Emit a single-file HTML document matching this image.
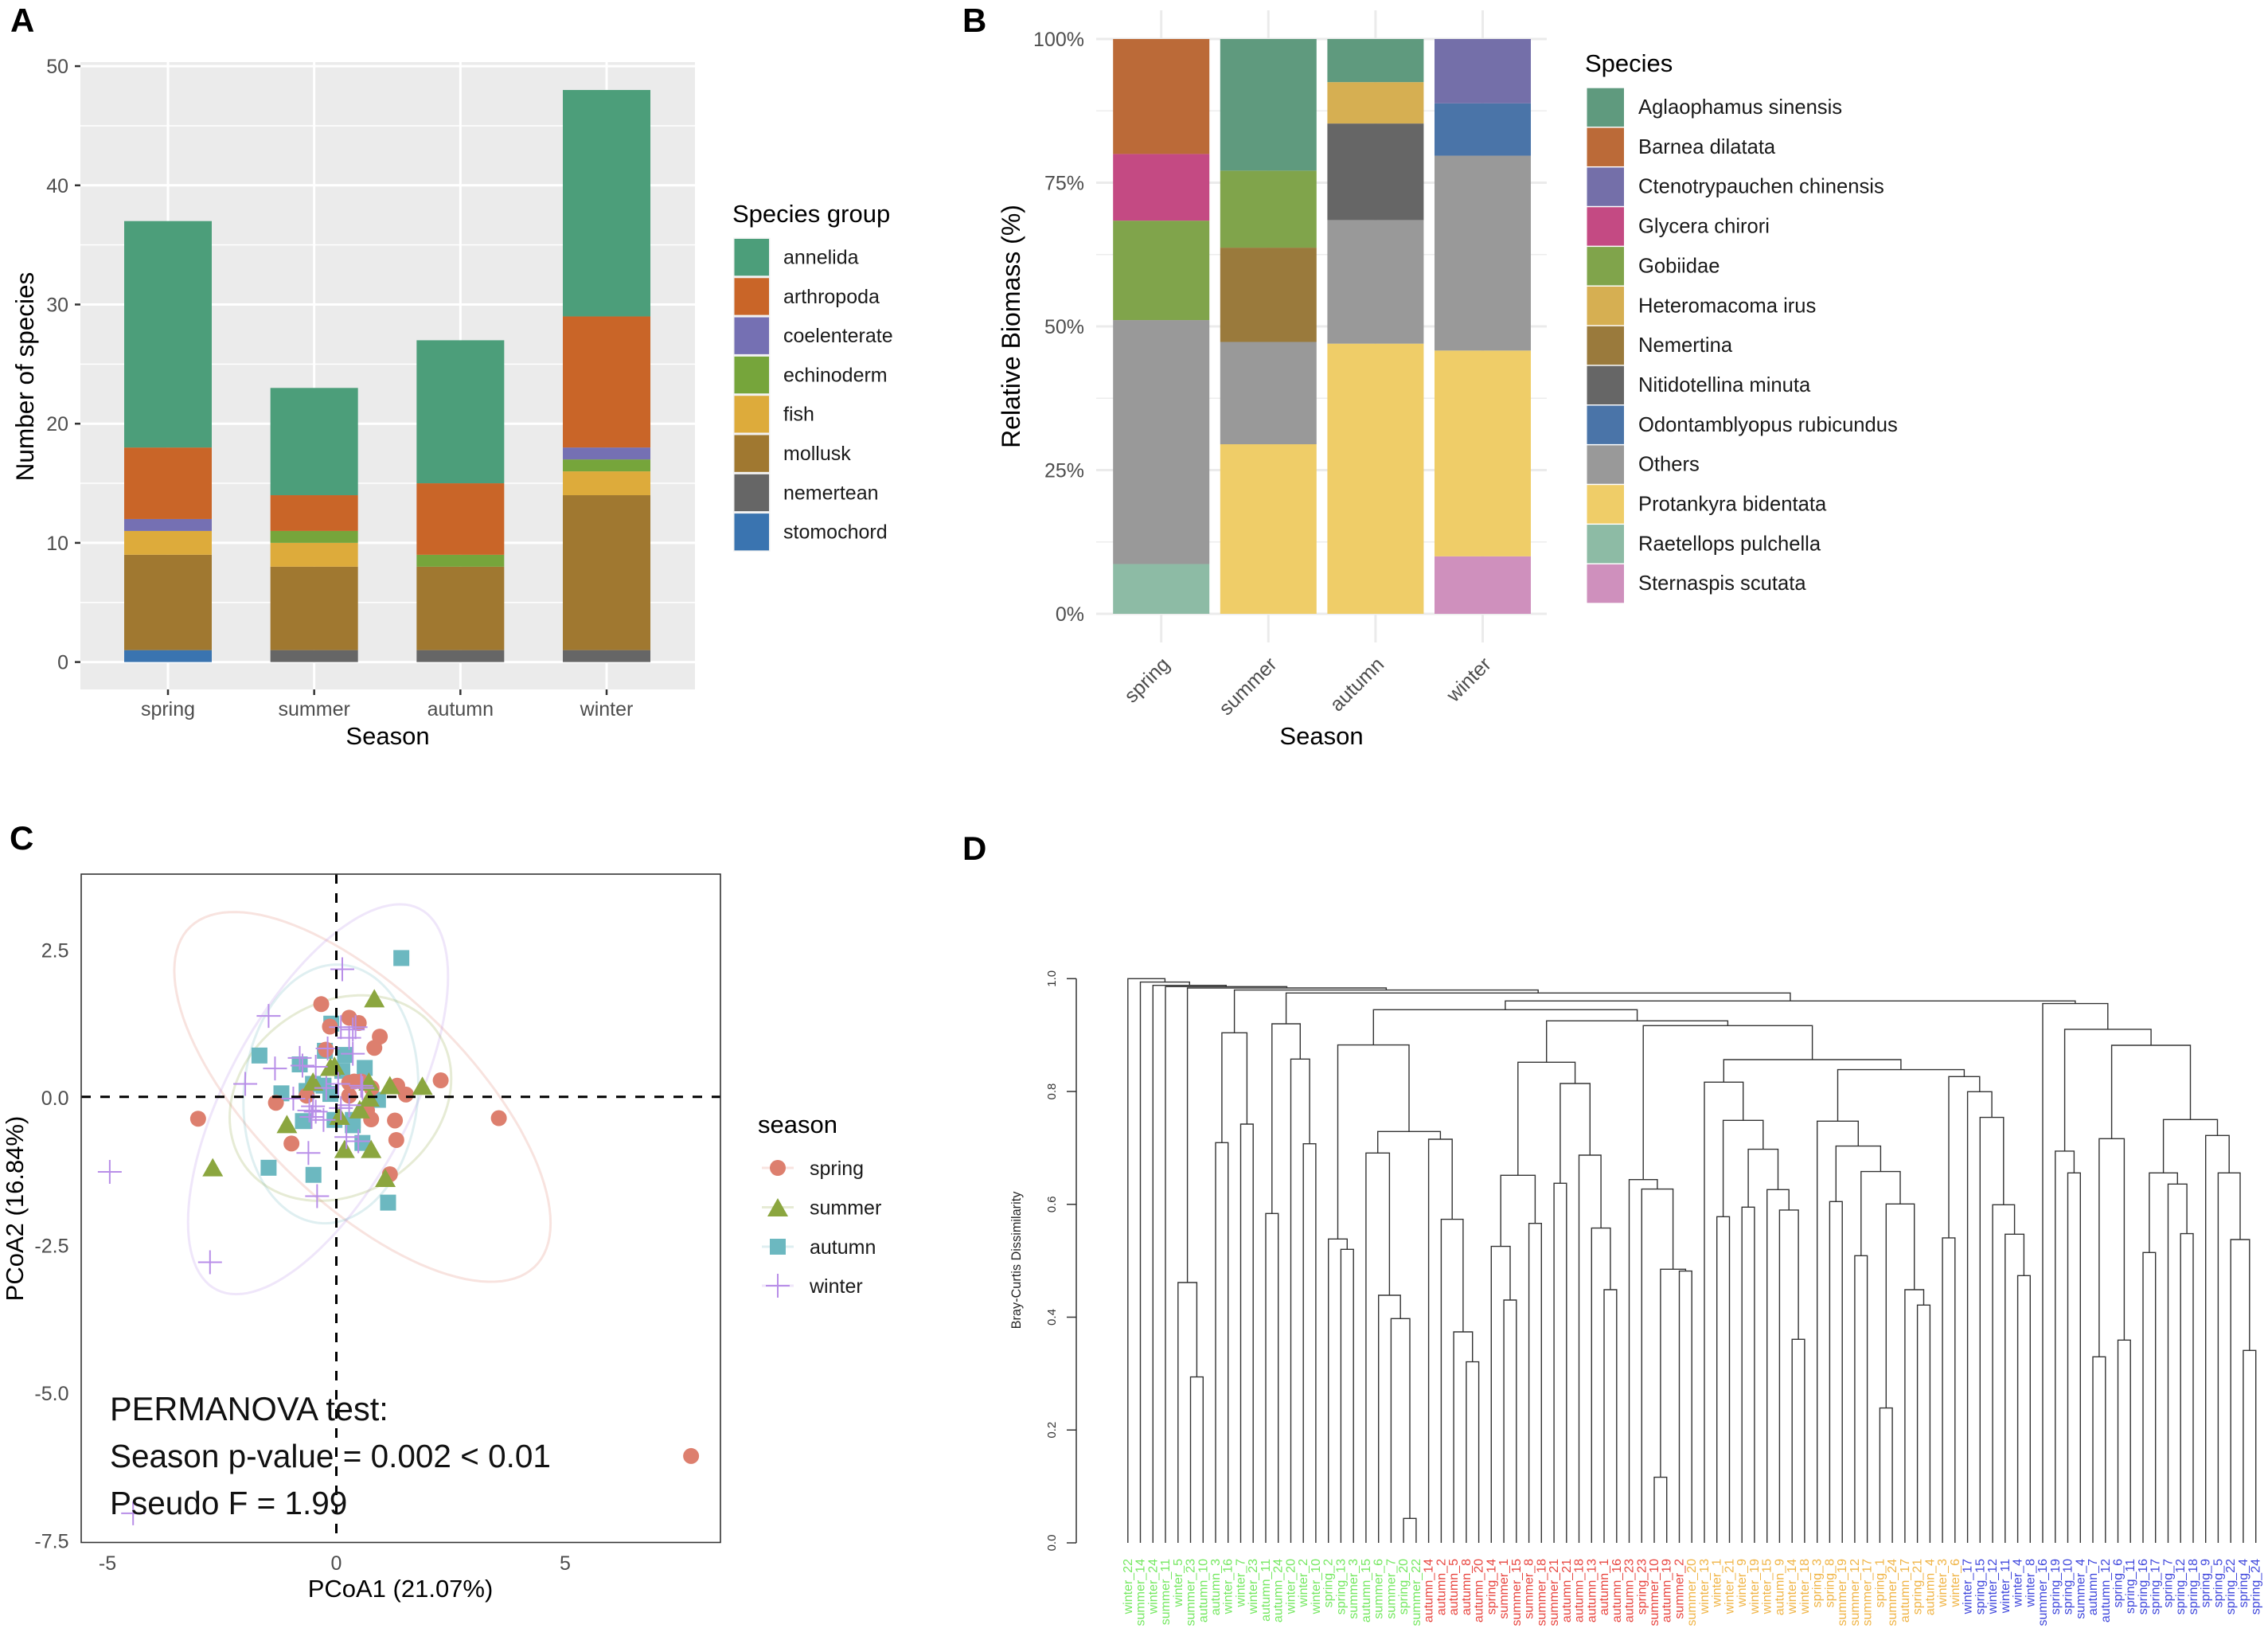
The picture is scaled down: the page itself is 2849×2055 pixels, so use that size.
<!DOCTYPE html>
<html lang="en">
<head>
<meta charset="utf-8">
<title>Seasonal macrobenthos community figure</title>
<style>
html,body{margin:0;padding:0;background:#fff}
svg{display:block;font-family:"Liberation Sans",Arial,sans-serif}
</style>
</head>
<body>
<svg id="figure" xmlns="http://www.w3.org/2000/svg" width="2849" height="2055" viewBox="0 0 2849 2055">
  <rect width="2849" height="2055" fill="#fff"/>
  <g id="panelA"></g>
  <g id="panelB"></g>
  <g id="panelC"></g>
  <g id="panelD"></g>

  <g font-weight="700" font-size="42" fill="#000">
    <text x="13" y="40">A</text>
    <text x="1209" y="40">B</text>
    <text x="12" y="1067">C</text>
    <text x="1209" y="1080">D</text>
  </g>

  <text x="487" y="935" font-size="31" text-anchor="middle">Season</text>
  <text transform="translate(42,473) rotate(-90)" font-size="31.5" text-anchor="middle">Number of species</text>
  <text x="920" y="279" font-size="31">Species group</text>

  <text x="1660" y="935" font-size="31" text-anchor="middle">Season</text>
  <text transform="translate(1281,410) rotate(-90)" font-size="32" text-anchor="middle">Relative Biomass (%)</text>
  <text x="1991" y="90" font-size="31">Species</text>

  <text x="503" y="2006" font-size="31" text-anchor="middle">PCoA1 (21.07%)</text>
  <text transform="translate(29,1518) rotate(-90)" font-size="31" text-anchor="middle">PCoA2 (16.84%)</text>
  <text x="952" y="1423" font-size="31">season</text>

  <text transform="translate(1282,1583) rotate(-90)" font-size="16.3" text-anchor="middle" fill="#222">Bray-Curtis Dissimilarity</text>

  <g id="panelCNotes" font-size="40.5" fill="#111">
    <text x="138" y="1784" font-size="41.5">PERMANOVA test:</text>
    <text x="138" y="1843">Season p-value = 0.002 &lt; 0.01</text>
    <text x="138" y="1902">Pseudo F = 1.99</text>
  </g>
</svg>

<script>
/* ---------- Panel A data ---------- */
const seasons = ['spring', 'summer', 'autumn', 'winter'];
const groupNames = ['annelida', 'arthropoda', 'coelenterate', 'echinoderm', 'fish', 'mollusk', 'nemertean', 'stomochord'];
const groupColors = ['#4c9e7a', '#c96528', '#7570b3', '#76a53b', '#ddab3b', '#a07830', '#666666', '#3a74b0'];
const annelidaCounts = [19, 9, 12, 19];
const arthropodaCounts = [6, 3, 6, 11];
const coelenterateCounts = [1, 0, 0, 1];
const echinodermCounts = [0, 1, 1, 1];
const fishCounts = [2, 2, 0, 2];
const molluskCounts = [8, 7, 7, 13];
const nemerteanCounts = [0, 1, 1, 1];
const stomochordCounts = [1, 0, 0, 0];
const countTicks = [0, 10, 20, 30, 40, 50];
const countMinorTicks = [5, 15, 25, 35, 45];

/* ---------- Panel B data ---------- */
const speciesNames = ['Aglaophamus sinensis', 'Barnea dilatata', 'Ctenotrypauchen chinensis', 'Glycera chirori', 'Gobiidae', 'Heteromacoma irus', 'Nemertina', 'Nitidotellina minuta', 'Odontamblyopus rubicundus', 'Others', 'Protankyra bidentata', 'Raetellops pulchella', 'Sternaspis scutata'];
const speciesColors = ['#5f9a7e', '#bb6a38', '#746fa9', '#c44a83', '#80a44b', '#d6af52', '#9a7a3c', '#666666', '#4a74a8', '#999999', '#efcd68', '#8dbba5', '#cf90bd'];
const aglaophamusBiomass = [0, 22.9, 7.5, 0];
const barneaBiomass = [20, 0, 0, 0];
const ctenotrypauchenBiomass = [0, 0, 0, 11.2];
const glyceraBiomass = [11.6, 0, 0, 0];
const gobiidaeBiomass = [17.3, 13.4, 0, 0];
const heteromacomaBiomass = [0, 0, 7.2, 0];
const nemertinaBiomass = [0, 16.4, 0, 0];
const nitidotellinaBiomass = [0, 0, 16.8, 0];
const odontamblyopusBiomass = [0, 0, 0, 9.1];
const othersBiomass = [42.44, 17.8, 21.5, 33.9];
const protankyraBiomass = [0, 29.5, 47, 35.8];
const raetellopsBiomass = [8.66, 0, 0, 0];
const sternaspisBiomass = [0, 0, 0, 10];
const biomassTicks = [0, 25, 50, 75, 100];
const biomassMinorTicks = [12.5, 37.5, 62.5, 87.5];

/* ---------- Panel C data ---------- */
const springPoints = [[-0.33,1.57],[0.28,1.34],[0.49,1.25],[-0.14,1.19],[0.95,1.02],[0.83,0.83],[-0.23,0.80],[2.28,0.28],[1.33,0.19],[1.52,0.04],[0.39,0.26],[0.28,0.24],[0.54,0.26],[0.77,0.15],[0.28,0.02],[-1.32,-0.10],[-0.65,0.02],[-3.02,-0.37],[0.67,-0.23],[0.76,-0.38],[1.28,-0.40],[1.31,-0.73],[-0.98,-0.79],[1.17,-1.31],[3.55,-0.36],[7.75,-6.08]];
const summerPoints = [[0.83,1.67],[-0.13,0.51],[-0.04,0.53],[-0.51,0.26],[1.17,0.20],[1.88,0.19],[0.72,-0.01],[-1.08,-0.46],[-2.70,-1.19],[0.18,-0.88],[0.76,-0.88],[1.07,-1.37],[0.51,-0.21],[0.07,-0.32],[0.71,0.26]];
const autumnPoints = [[1.42,2.35],[-0.11,1.24],[-0.25,0.78],[0.19,0.71],[0.62,0.49],[-1.68,0.70],[-0.80,0.55],[0.13,0.44],[-1.20,0.06],[-0.51,0.22],[-0.65,0.10],[-0.28,0.19],[-0.13,0.05],[0.91,-0.05],[-0.73,-0.41],[-0.04,-0.39],[0.36,-0.39],[0.36,-0.48],[0.57,-0.78],[-1.48,-1.20],[-0.50,-1.32],[1.13,-1.79]];
const winterPoints = [[0.13,2.16],[-1.48,1.37],[0.36,1.14],[0.28,1.0],[0.42,1.18],[0.10,1.18],[0.36,0.73],[-0.19,0.82],[-0.80,0.66],[-0.74,0.53],[-0.45,0.51],[-1.34,0.48],[-1.99,0.22],[-0.22,0.15],[0.04,0.22],[0.54,0.19],[0.57,0.15],[-0.94,-0.03],[-0.51,-0.16],[-0.59,-0.23],[-0.45,-0.25],[-0.28,-0.39],[-0.54,-0.34],[0.10,-0.19],[0.28,-0.14],[0.22,-0.68],[0.48,-0.75],[-0.61,-0.95],[-0.42,-1.68],[-4.95,-1.27],[-2.76,-2.80],[-4.44,-7.05]];
/* centre x, centre y, half-width x, half-height y, correlation */
const springEllipse = [0.57, 0.0, 4.11, 3.13, -0.683];
const summerEllipse = [0.09, -0.02, 2.42, 1.74, 0.19];
const autumnEllipse = [-0.12, 0.05, 1.91, 2.19, 0.07];
const winterEllipse = [-0.40, -0.04, 2.84, 3.30, 0.63];
const pcoaXTicks = [-5, 0, 5];
const pcoaYTicks = [2.5, 0, -2.5, -5, -7.5];

/* ---------- Panel D data ---------- */
const greenLeaves = ['winter_22','summer_14','winter_24','summer_11','winter_5','summer_23','autumn_10','autumn_3','winter_16','winter_7','winter_23','autumn_11','autumn_24','winter_20','winter_2','winter_10','spring_2','spring_13','summer_3','autumn_15','summer_6','summer_7','spring_20','summer_22'];
const redLeaves = ['autumn_14','autumn_2','autumn_5','autumn_8','autumn_20','spring_14','summer_1','summer_15','summer_8','summer_18','summer_21','autumn_21','autumn_18','autumn_13','autumn_1','autumn_16','autumn_23','spring_23','summer_10','autumn_19','summer_2'];
const orangeLeaves = ['summer_20','winter_13','winter_1','winter_21','winter_9','winter_19','winter_15','autumn_9','winter_14','winter_18','spring_3','spring_8','summer_19','summer_12','summer_17','spring_1','summer_24','autumn_17','spring_21','autumn_4','winter_3','winter_6'];
const blueLeaves = ['winter_17','spring_15','winter_12','winter_11','winter_4','winter_8','summer_16','spring_19','spring_10','summer_4','autumn_7','autumn_12','spring_6','spring_11','spring_16','spring_17','spring_7','spring_12','spring_18','spring_9','spring_5','spring_22','spring_4','spring_24'];
const dissimilarityTicks = [0, 0.2, 0.4, 0.6, 0.8, 1.0];
/* nested clusters: [height, left, right]; a bare number is a leaf position */
const clusterA = [0.8824,[0.5386,16,[0.5202,17,18]],[0.7291,[0.691,19,[0.4389,20,[0.3975,21,[0.0433,22,23]]]],[0.7154,24,[0.5734,25,[0.3739,26,[0.3208,27,28]]]]]];
const clusterD = [0.6439,40,[0.627,41,[0.485,[0.1162,42,43],[0.4817,44,45]]]];
const clusterE = [0.8565,[0.8166,46,[0.7488,[0.5781,47,48],[0.6976,[0.595,49,50],[0.6261,51,[0.5899,52,[0.3608,53,54]]]]]],[0.8387,[0.7474,55,[0.7032,[0.6049,56,57],[0.6581,[0.5089,58,59],[0.6007,[0.239,60,61],[0.4487,62,[0.4215,63,64]]]]]],[0.8264,[0.5405,65,66],[0.7996,67,[0.754,68,[0.5993,69,[0.547,70,[0.4737,71,72]]]]]]]];
const clusterB = [0.9252,[0.8518,[0.6515,[0.5254,29,[0.4304,30,31]],[0.5663,32,33]],[0.8142,[0.6374,34,35],[0.6872,36,[0.5579,37,[0.4487,38,39]]]]],[0.9167,clusterD,clusterE]];
const clusterC = [0.9558,73,[0.9102,[0.6943,74,[0.6557,75,76]],[0.8819,[0.7164,[0.3297,77,78],[0.3594,79,80]],[0.7502,[0.6557,[0.5146,81,82],[0.6359,83,[0.548,84,85]]],[0.722,86,[0.6557,87,[0.5376,88,[0.341,89,90]]]]]]]];
const dendroRoot = [1.0,0,[0.9939,1,[0.9882,2,[0.9859,3,[0.9835,[0.4614,4,[0.294,5,6]],[0.9798,[0.9041,[0.7093,7,8],[0.7422,9,10]],[0.9746,[0.92,[0.5837,11,12],[0.8575,13,[0.7074,14,15]]],[0.9605,[0.945,clusterA,clusterB],clusterC]]]]]]]];

/* ---------- Helpers ---------- */
const SVG_NS = 'http://www.w3.org/2000/svg';
function mk(tag, attrs, parent) {
  const el = document.createElementNS(SVG_NS, tag);
  for (const k in attrs) el.setAttribute(k, attrs[k]);
  parent.appendChild(el);
  return el;
}
function txt(content, attrs, parent) {
  const el = mk('text', attrs, parent);
  el.textContent = content;
  return el;
}

/* ---------- Panel A ---------- */
(function () {
  const g = document.getElementById('panelA');
  const y = v => 831.6 - v * 14.97;
  const x = i => 211 + i * 183.67;
  const barWidth = 110;
  const stackOrder = [stomochordCounts, nemerteanCounts, molluskCounts, fishCounts, echinodermCounts, coelenterateCounts, arthropodaCounts, annelidaCounts];
  const stackColors = [7, 6, 5, 4, 3, 2, 1, 0].map(i => groupColors[i]);

  let el = mk('rect', {x: 101, y: 78, width: 772, height: 788, fill: '#ebebeb'}, g);
  
  

  countMinorTicks.forEach(v => {
    const el = mk('line', {x1: 101, x2: 873, y1: y(v), y2: y(v), stroke: '#fff', 'stroke-width': 1.5}, g);
    
    
  });
  countTicks.forEach(v => {
    const line = mk('line', {x1: 101, x2: 873, y1: y(v), y2: y(v), stroke: '#fff', 'stroke-width': 3}, g);
    
    
    const tick = mk('line', {x1: 94, x2: 101, y1: y(v), y2: y(v), stroke: '#333', 'stroke-width': 2.5}, g);
    
    
    const label = txt(v, {x: 86, y: y(v) + 9, 'text-anchor': 'end', 'font-size': 25, fill: '#4d4d4d'}, g);
    
    
  });
  seasons.forEach((s, i) => {
    const line = mk('line', {x1: x(i), x2: x(i), y1: 78, y2: 866, stroke: '#fff', 'stroke-width': 3}, g);
    
    
    const tick = mk('line', {x1: x(i), x2: x(i), y1: 866, y2: 873, stroke: '#333', 'stroke-width': 2.5}, g);
    
    
    const label = txt(s, {x: x(i), y: 899, 'text-anchor': 'middle', 'font-size': 25, fill: '#4d4d4d'}, g);
    
    
    let base = 0;
    stackOrder.forEach((series, k) => {
      const v = series[i];
      if (!v) return;
      const seg = mk('rect', {x: x(i) - barWidth / 2, y: y(base + v), width: barWidth, height: y(base) - y(base + v), fill: stackColors[k]}, g);
      
      
      base += v;
    });
  });
  groupNames.forEach((name, i) => {
    const top = 298.5 + i * 49.3;
    const bg = mk('rect', {x: 921, y: top, width: 46.5, height: 49.3, fill: '#f2f2f2'}, g);
    
    
    const key = mk('rect', {x: 922.5, y: top + 1.5, width: 43.5, height: 46.3, fill: groupColors[i]}, g);
    
    
    const label = txt(name, {x: 984, y: top + 33, 'font-size': 25, fill: '#1a1a1a'}, g);
    
    
  });
})();

/* ---------- Panel B ---------- */
(function () {
  const g = document.getElementById('panelB');
  const y = p => 771 - p * 7.22;
  const x = i => 1458.7 + i * 134.6;
  const barWidth = 121;
  const stackOrder = [sternaspisBiomass, raetellopsBiomass, protankyraBiomass, othersBiomass, odontamblyopusBiomass, nitidotellinaBiomass, nemertinaBiomass, heteromacomaBiomass, gobiidaeBiomass, glyceraBiomass, ctenotrypauchenBiomass, barneaBiomass, aglaophamusBiomass];
  const stackColors = speciesColors.slice().reverse();

  biomassMinorTicks.forEach(v => {
    const el = mk('line', {x1: 1377, x2: 1943, y1: y(v), y2: y(v), stroke: '#ededed', 'stroke-width': 1.5}, g);
    
    
  });
  biomassTicks.forEach(v => {
    const line = mk('line', {x1: 1377, x2: 1943, y1: y(v), y2: y(v), stroke: '#ebebeb', 'stroke-width': 3}, g);
    
    
    const label = txt(v + '%', {x: 1362, y: y(v) + 9, 'text-anchor': 'end', 'font-size': 25, fill: '#4d4d4d'}, g);
    
    
  });
  seasons.forEach((s, i) => {
    const line = mk('line', {x1: x(i), x2: x(i), y1: 13, y2: 807, stroke: '#ebebeb', 'stroke-width': 3}, g);
    
    
    const label = txt(s, {transform: 'translate(' + (x(i) + 12) + ',836) rotate(-45)', 'text-anchor': 'end', 'font-size': 25, fill: '#4d4d4d'}, g);
    
    
    let base = 0;
    stackOrder.forEach((series, k) => {
      const v = series[i];
      if (!v) return;
      const seg = mk('rect', {x: x(i) - barWidth / 2, y: y(base + v), width: barWidth, height: y(base) - y(base + v), fill: stackColors[k]}, g);
      
      
      base += v;
    });
  });
  speciesNames.forEach((name, i) => {
    const top = 110 + i * 49.85;
    const key = mk('rect', {x: 1993.5, y: top + 0.7, width: 46.5, height: 48.4, fill: speciesColors[i]}, g);
    
    
    const label = txt(name, {x: 2058, y: top + 33, 'font-size': 25.6, fill: '#1a1a1a'}, g);
    
    
  });
})();

/* ---------- Panel C ---------- */
(function () {
  const g = document.getElementById('panelC');
  const x = v => 422.5 + v * 57.5;
  const y = v => 1377.8 - v * 74.2;
  const colors = {spring: '#dd7f6e', summer: '#8ba63f', autumn: '#6cb8c0', winter: '#b88ee8'};

  function ellipsePath(e) {
    const phi = Math.acos(e[4]);
    let d = '';
    for (let k = 0; k <= 120; k++) {
      const t = k / 120 * 2 * Math.PI;
      const px = x(e[0] + e[2] * Math.cos(t));
      const py = y(e[1] + e[3] * Math.cos(t + phi));
      d += (k ? 'L' : 'M') + px.toFixed(1) + ' ' + py.toFixed(1);
    }
    return d + 'Z';
  }
  function circleMark(px, py, parent) {
    return mk('circle', {cx: px, cy: py, r: 10, fill: colors.spring}, parent);
  }
  function triangleMark(px, py, parent) {
    const pts = [[px, py - 11.5], [px + 13, py + 11.5], [px - 13, py + 11.5]].map(p => p.join(',')).join(' ');
    return mk('polygon', {points: pts, fill: colors.summer}, parent);
  }
  function squareMark(px, py, parent) {
    return mk('rect', {x: px - 10, y: py - 10, width: 20, height: 20, fill: colors.autumn}, parent);
  }
  function plusMark(px, py, parent) {
    return mk('path', {d: 'M' + (px - 15) + ' ' + py + 'H' + (px + 15) + 'M' + px + ' ' + (py - 15) + 'V' + (py + 15), stroke: colors.winter, 'stroke-width': 2, fill: 'none'}, parent);
  }

  [[springEllipse, colors.spring], [winterEllipse, colors.winter], [autumnEllipse, colors.autumn], [summerEllipse, colors.summer]].forEach(item => {
    const el = mk('path', {d: ellipsePath(item[0]), fill: 'none', stroke: item[1], 'stroke-width': 3, 'stroke-opacity': 0.22}, g);
    
    
  });

  autumnPoints.forEach(p => {
    const el = squareMark(x(p[0]), y(p[1]), g);
    
    
  });
  springPoints.forEach(p => {
    const el = circleMark(x(p[0]), y(p[1]), g);
    
    
  });
  summerPoints.forEach(p => {
    const el = triangleMark(x(p[0]), y(p[1]), g);
    
    
  });
  winterPoints.forEach(p => {
    const el = plusMark(x(p[0]), y(p[1]), g);
    
    
  });

  const hz = mk('line', {x1: 102, x2: 905, y1: y(0), y2: y(0), stroke: '#000', 'stroke-width': 3, 'stroke-dasharray': '12 12'}, g);
  
  
  const vt = mk('line', {x1: x(0), x2: x(0), y1: 1098, y2: 1938, stroke: '#000', 'stroke-width': 3, 'stroke-dasharray': '12 12'}, g);
  
  

  const frame = mk('rect', {x: 102, y: 1098, width: 803, height: 839.5, fill: 'none', stroke: '#333', 'stroke-width': 1.6}, g);
  
  

  pcoaXTicks.forEach(v => {
    const el = txt(v, {x: x(v), y: 1972, 'text-anchor': 'middle', 'font-size': 25, fill: '#4d4d4d'}, g);
    
    
  });
  pcoaYTicks.forEach(v => {
    const el = txt(v.toFixed(1), {x: 86.5, y: y(v) + 10, 'text-anchor': 'end', 'font-size': 25, fill: '#4d4d4d'}, g);
    
    
  });

  const legendY = [1467, 1516.5, 1566, 1615];
  const legendColors = [colors.spring, colors.summer, colors.autumn, colors.winter];
  const legendMarks = [circleMark, triangleMark, squareMark, plusMark];
  seasons.forEach((s, i) => {
    const line = mk('line', {x1: 957, x2: 997, y1: legendY[i], y2: legendY[i], stroke: legendColors[i], 'stroke-width': 3, 'stroke-opacity': 0.22}, g);
    
    
    const mark = legendMarks[i](977, legendY[i], g);
    
    
    const label = txt(s, {x: 1017, y: legendY[i] + 9, 'font-size': 25, fill: '#1a1a1a'}, g);
    
    
  });
})();

/* ---------- Panel D ---------- */
(function () {
  const g = document.getElementById('panelD');
  const y = h => 1938 - h * 708.7;
  const x = i => 1416.8 + i * 15.743;

  const axis = mk('line', {x1: 1352, x2: 1352, y1: y(0), y2: y(1), stroke: '#333', 'stroke-width': 1.5}, g);
  
  
  dissimilarityTicks.forEach(v => {
    const tick = mk('line', {x1: 1340, x2: 1352, y1: y(v), y2: y(v), stroke: '#333', 'stroke-width': 1.5}, g);
    
    
    const label = txt(v.toFixed(1), {transform: 'translate(1326,' + y(v) + ') rotate(-90)', 'text-anchor': 'middle', 'font-size': 15, fill: '#333'}, g);
    
    
  });

  function drawNode(node) {
    if (typeof node === 'number') return {x: x(node), h: 0};
    const l = drawNode(node[1]);
    const r = drawNode(node[2]);
    const d = 'M' + l.x.toFixed(1) + ' ' + y(l.h).toFixed(1) + 'V' + y(node[0]).toFixed(1) + 'H' + r.x.toFixed(1) + 'V' + y(r.h).toFixed(1);
    const el = mk('path', {d: d, fill: 'none', stroke: '#333', 'stroke-width': 1.4}, g);
    
    
    return {x: (l.x + r.x) / 2, h: node[0]};
  }
  drawNode(dendroRoot);

  let pos = 0;
  [[greenLeaves, '#74e860'], [redLeaves, '#e8453f'], [orangeLeaves, '#f0b445'], [blueLeaves, '#3f47dc']].forEach(item => {
    item[0].forEach(name => {
      const el = txt(name, {transform: 'translate(' + (x(pos) + 5) + ',1958) rotate(-90)', 'text-anchor': 'end', 'font-size': 16, fill: item[1]}, g);
      
      
      pos++;
    });
  });
})();
</script>
</body>
</html>
